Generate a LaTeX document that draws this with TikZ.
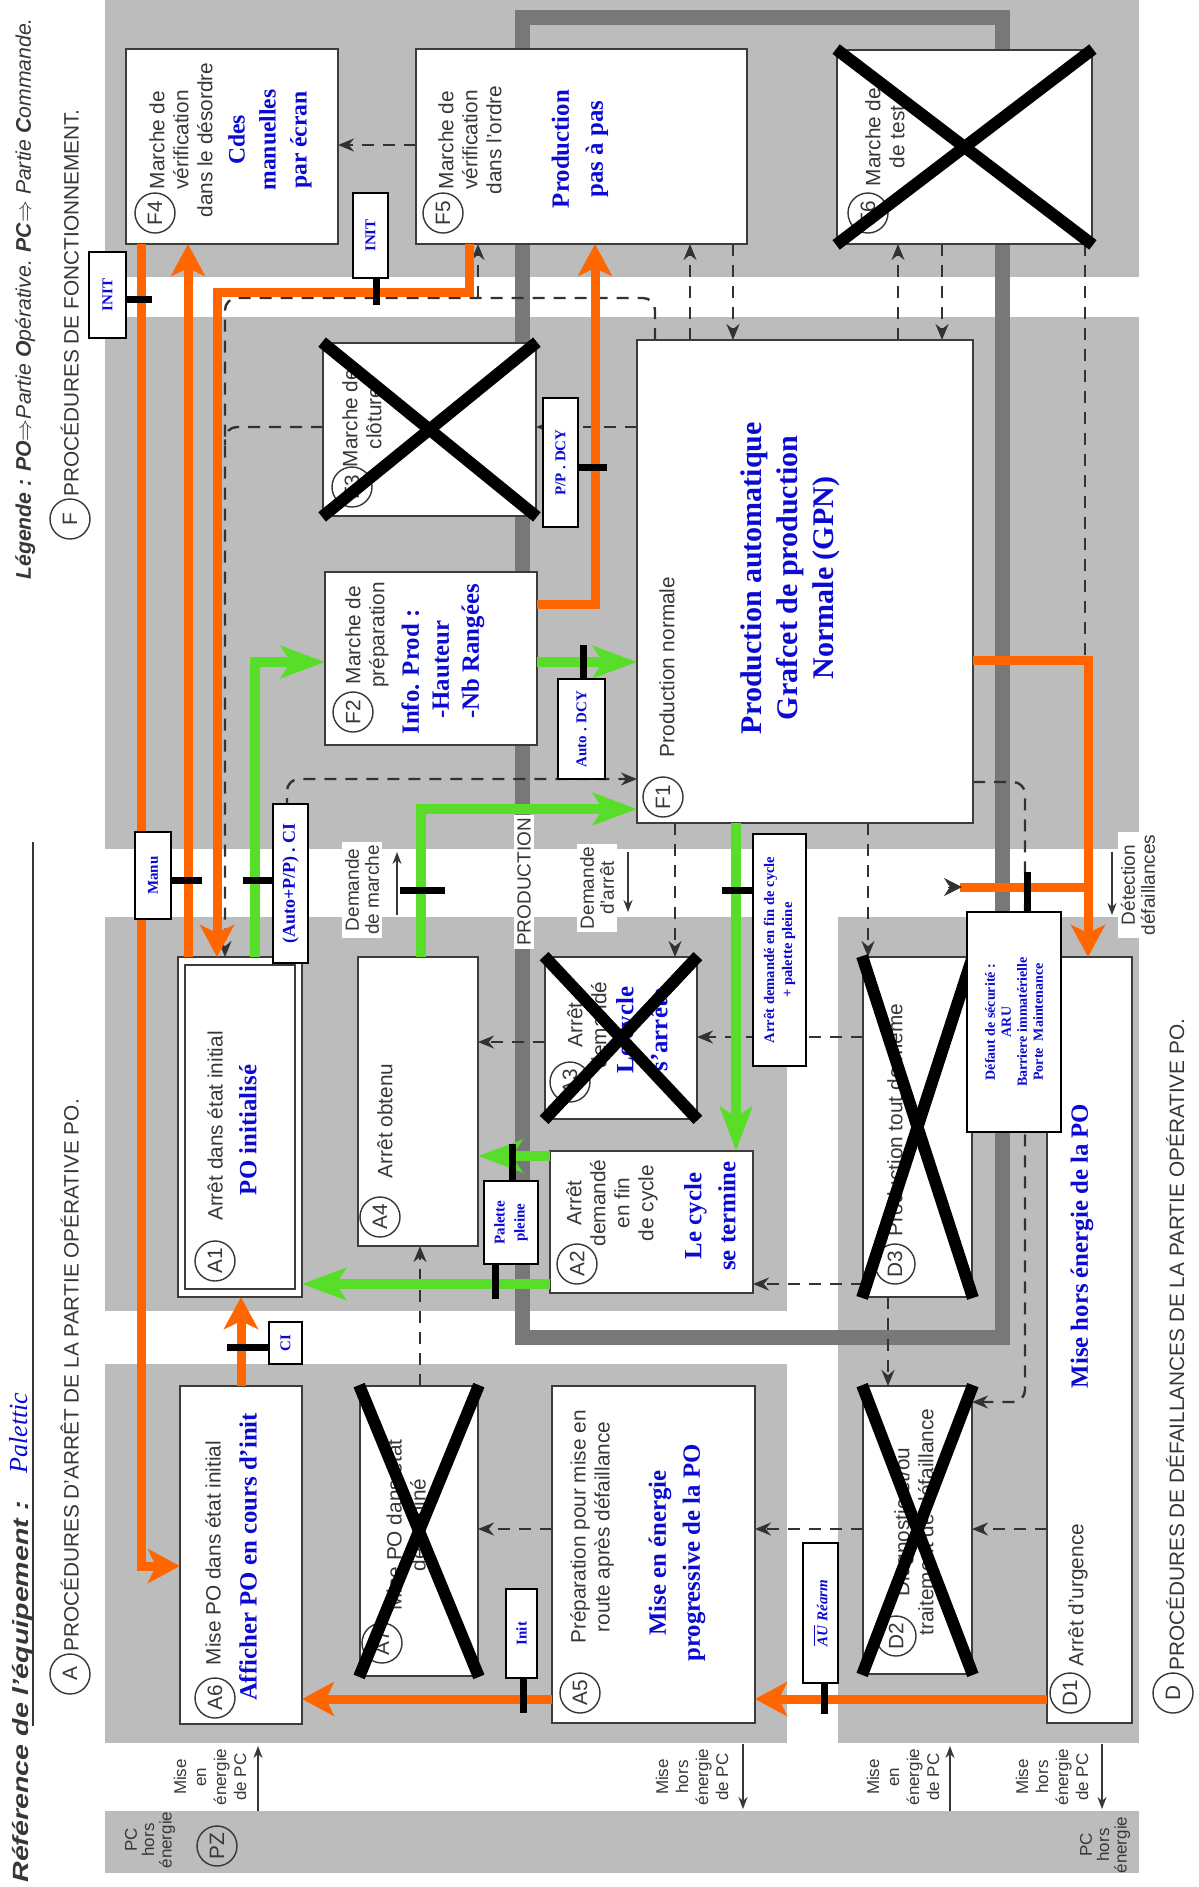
\documentclass[tikz,border=0pt]{standalone}
\usepackage{fontspec}
\usepackage{graphicx}
\setmainfont{Liberation Serif}
\setsansfont{Liberation Sans}
\usetikzlibrary{arrows.meta,fit}
\definecolor{cZone}{RGB}{188,188,188}
\definecolor{cFrame}{RGB}{120,120,120}
\definecolor{cOrange}{RGB}{255,102,0}
\definecolor{cGreen}{RGB}{88,222,40}
\definecolor{cBlue}{RGB}{10,10,210}
\definecolor{cLine}{RGB}{60,60,60}
\definecolor{cText}{RGB}{55,55,55}
\definecolor{cDash}{RGB}{50,50,50}
\begin{document}
\begin{tikzpicture}[x=0.5pt,y=-0.5pt,
  gbox/.style={draw=cLine,line width=0.9pt,fill=white,inner sep=0pt},
  lbox/.style={draw=black,line width=0.8pt,fill=white,inner sep=0pt},
  gt/.style={font=\sffamily\fontsize{10.4}{12}\selectfont,text=cText,rotate=90,align=center,inner sep=0pt},
  bt/.style={font=\rmfamily\bfseries\fontsize{12.4}{17}\selectfont,text=cBlue,rotate=90,align=center,inner sep=0pt},
  lt/.style={font=\rmfamily\bfseries\fontsize{7.5}{9}\selectfont,text=cBlue,rotate=90,align=center,inner sep=0pt},
  cir/.style={circle,draw=cText,line width=0.7pt,minimum size=20pt,inner sep=0pt,font=\sffamily\fontsize{10.4}{12}\selectfont,text=cText,rotate=90},
  smt/.style={font=\sffamily\fontsize{8.5}{10}\selectfont,text=cText,rotate=90,align=center,inner sep=0pt},
  bnd/.style={font=\sffamily\fontsize{9.5}{10}\selectfont,text=cText,rotate=90,align=center,inner sep=1.5pt,fill=white},
  xcr/.style={line width=6pt,black},
  dsh/.style={draw=cDash,line width=1.2pt,dash pattern=on 6pt off 4.5pt},
  dar/.style={dsh,-{Stealth[length=8pt,width=6.5pt]}},
  org/.style={draw=cOrange,line width=4.5pt},
  oar/.style={org,-{Stealth[length=16pt,width=17pt,inset=4pt]}},
  grl/.style={draw=cGreen,line width=5pt},
  gar/.style={grl,-{Stealth[length=22pt,width=16pt,inset=5pt]}},
  tk/.style={line width=3.5pt,black},
  parr/.style={draw=cText,line width=0.8pt,-{Stealth[length=6pt,width=4.5pt]}},
  hd/.style={font=\sffamily\fontsize{10.4}{12}\selectfont,text=cText,rotate=90,inner sep=0pt,anchor=base west},
]
% ---------- background and zones
\fill[white] (0,0) rectangle (1199,1887);
\useasboundingbox (0,0) rectangle (1199,1887);
\fill[cZone] (105,0) rectangle (1139,277);
\fill[cZone] (105,317) rectangle (1139,849);
\fill[cZone] (105,917) rectangle (787,1311);
\fill[cZone] (105,1364) rectangle (787,1743);
\fill[cZone] (838,917) rectangle (1139,1743);
\fill[cZone] (105,1811) rectangle (1139,1873);
% production frame
\draw[cFrame,line width=7.5pt] (522,17) rectangle (1002,1337);

% ---------- headers
\node[hd,font=\sffamily\itshape\fontsize{10.6}{12}\selectfont] (leg) at (31,580)
  {\textbf{Légende :} \textbf{PO}$\Rightarrow$Partie \textbf{O}pérative. \textbf{PC}$\Rightarrow$ Partie \textbf{C}ommande.};
\node[cir] (cF) at (70,519) {F};
\node[hd] (hF) at (78.5,497) {PROCÉDURES DE FONCTIONNEMENT.};
\node[cir] (cA) at (70,1674) {A};
\node[hd] (hA) at (78.5,1652) {PROCÉDURES D'ARRÊT DE LA PARTIE OPÉRATIVE PO.};
\node[cir] (cD) at (1173,1693) {D};
\node[hd] (hD) at (1184,1671) {PROCÉDURES DE DÉFAILLANCES DE LA PARTIE OPÉRATIVE PO.};
\node[hd,font=\sffamily\bfseries\itshape\fontsize{11}{12}\selectfont] (ref) at (28,1883)
  {\scalebox{1.3}[1]{Référence de l'équipement :}};
\node[hd,font=\rmfamily\itshape\fontsize{13}{14}\selectfont,text=cBlue] (pal) at (27,1474) {Palettic};
\draw[cText,line width=0.8pt] (33,1726) -- (33,842);

% ---------- dashed GEMMA links
\draw[dar] (416,145) -- (338,145);
\draw[dar] (690,340) -- (690,244);
\draw[dar] (733,244) -- (733,340);
\draw[dar] (898,340) -- (898,244);
\draw[dar] (942,244) -- (942,340);
\draw[dsh] (1085,244) -- (1085,655);
\draw[dar,rounded corners=6pt] (655,340) -- (655,298) -- (225,298) -- (225,957);
\draw[dar] (478,298) -- (478,244);
\draw[dar] (637,427) -- (536,427);
\draw[dsh,rounded corners=6pt] (323,427) -- (225,427) -- (225,445);
\draw[dar,rounded corners=6pt] (287,957) -- (287,779) -- (637,779);
\draw[dar] (675,823) -- (675,957);
\draw[dar] (868,823) -- (868,957);
\draw[dar,rounded corners=6pt] (973,782) -- (1025,782) -- (1025,1402) -- (972,1402);
\draw[dar] (863,1037) -- (697,1037);
\draw[dar] (545,1042) -- (478,1042);
\draw[dar] (863,1284) -- (753,1284);
\draw[dar] (420,1386) -- (420,1246);
\draw[dar] (888,1297) -- (888,1386);
\draw[dar] (552,1529) -- (478,1529);
\draw[dar] (863,1529) -- (755,1529);
\draw[dar] (1047,1529) -- (972,1529);

% ---------- boxes
\node[gbox,fit={(126,49)(338,244)}] (F4) {};
\node[gbox,fit={(416,49)(747,244)}] (F5) {};
\node[gbox,fit={(837,50)(1092,244)}] (F6) {};
\node[gbox,fit={(323,343)(536,516)}] (F3) {};
\node[gbox,fit={(325,572)(537,745)}] (F2) {};
\node[gbox,fit={(637,340)(973,823)}] (F1) {};
\node[gbox,fit={(178,957)(302,1297)}] (A1) {};
\node[gbox,fit={(185,965)(295,1289)}] (A1i) {};
\node[gbox,fit={(358,957)(478,1246)}] (A4) {};
\node[gbox,fit={(545,957)(697,1119)}] (A3) {};
\node[gbox,fit={(550,1151)(753,1293)}] (A2) {};
\node[gbox,fit={(863,957)(972,1297)}] (D3) {};
\node[gbox,fit={(1047,957)(1132,1723)}] (D1) {};
\node[gbox,fit={(180,1386)(302,1724)}] (A6) {};
\node[gbox,fit={(360,1386)(478,1676)}] (A7) {};
\node[gbox,fit={(552,1386)(755,1723)}] (A5) {};
\node[gbox,fit={(863,1386)(972,1674)}] (D2) {};

% ---------- box texts
\node[cir] (cF4) at (155,213) {F4};
\node[gt] (tF4) at (181,140) {Marche de\\vérification\\dans le désordre};
\node[bt,font=\rmfamily\bfseries\fontsize{11.8}{15.5}\selectfont] (bF4) at (270,140) {Cdes\\manuelles\\par écran};
\node[cir] (cF5) at (443,213) {F5};
\node[gt] (tF5) at (470,140) {Marche de\\vérification\\dans l'ordre};
\node[bt] (bF5) at (580,149) {Production\\pas à pas};
\node[cir] (cF6) at (868,213) {F6};
\node[gt] (tF6) at (885,137) {Marche de\\de test};
\node[cir] (cF3) at (352,487) {F3};
\node[gt] (tF3) at (362,418) {Marche de\\clôture};
\node[cir] (cF2) at (353,712) {F2};
\node[gt] (tF2) at (367,635) {Marche de\\préparation};
\node[bt,align=left,anchor=west,font=\rmfamily\bfseries\fontsize{12.4}{15}\selectfont] (bF2) at (443,735)
  {Info. Prod :\\\hspace*{8pt}-Hauteur\\\hspace*{8pt}-Nb Rangées};
\node[cir] (cF1) at (663,797) {F1};
\node[gt] (tF1) at (667,667) {Production normale};
\node[bt,font=\rmfamily\bfseries\fontsize{15}{18}\selectfont] (bF1) at (790,578)
  {Production automatique\\Grafcet de production\\Normale (GPN)};
\node[cir] (cA1) at (215,1261) {A1};
\node[gt] (tA1) at (215,1126) {Arrêt dans état initial};
\node[bt] (bA1) at (248,1130) {PO initialisé};
\node[cir] (cA4) at (380,1217) {A4};
\node[gt] (tA4) at (385,1121) {Arrêt obtenu};
\node[cir] (cA3) at (570,1082) {A3};
\node[gt] (tA3) at (587,1025) {Arrêt\\demandé};
\node[bt] (bA3) at (642,1030) {Le cycle\\s'arrête};
\node[cir] (cA2) at (577,1264) {A2};
\node[gt] (tA2) at (612,1203) {Arrêt\\demandé\\en fin\\de cycle};
\node[bt] (bA2) at (710,1216) {Le cycle\\se termine};
\node[cir] (cD3) at (895,1264) {D3};
\node[gt] (tD3) at (895,1120) {Production tout de même};
\node[cir] (cD2) at (896,1636) {D2};
\node[gt] (tD2) at (914,1522) {Diagnostic et/ou\\traitement de défaillance};
\node[cir] (cD1) at (1070,1693) {D1};
\node[gt] (tD1) at (1078,1595) {Arrêt d'urgence};
\node[bt] (bD1) at (1082,1246) {Mise hors énergie de la PO};
\node[cir] (cA6) at (215,1698) {A6};
\node[gt] (tA6) at (213,1553) {Mise PO dans état initial};
\node[bt] (bA6) at (248,1557) {Afficher PO en cours d'init};
\node[cir] (cA7) at (382,1643) {A7};
\node[gt] (tA7) at (406,1525) {Mise PO dans état\\déterminé};
\node[cir] (cA5) at (580,1693) {A5};
\node[gt] (tA5) at (592,1527) {Préparation pour mise en\\route après défaillance};
\node[bt] (bA5) at (677,1553) {Mise en énergie\\progressive de la PO};

% ---------- crossed-out states
\foreach \b in {F3,F6,A3,A7,D3,D2}{
  \draw[xcr] (\b.north west) -- (\b.south east);
  \draw[xcr] (\b.south west) -- (\b.north east);
}

% ---------- bottom PC strip and power arrows
\node[smt,font=\sffamily\fontsize{8.5}{8.7}\selectfont] (pcL) at (150,1840) {PC\\hors\\énergie};
\node[cir] (cPZ) at (217,1846) {PZ};
\node[smt,font=\sffamily\fontsize{8.5}{8.7}\selectfont] (pcR) at (1105,1845) {PC\\hors\\énergie};
\node[smt] (pe1) at (210,1777) {Mise\\en\\énergie\\de PC};
\node[smt] (ph1) at (692,1777) {Mise\\hors\\énergie\\de PC};
\node[smt] (pe2) at (903,1777) {Mise\\en\\énergie\\de PC};
\node[smt] (ph2) at (1052,1777) {Mise\\hors\\énergie\\de PC};
\draw[parr] (258,1811) -- (258,1746);
\draw[parr] (743,1744) -- (743,1809);
\draw[parr] (950,1811) -- (950,1746);
\draw[parr] (1102,1744) -- (1102,1809);

% ---------- band labels
\node[bnd] (prod) at (524,882) {PRODUCTION};
\node[bnd] (dmar) at (362,890) {Demande\\de marche};
\node[bnd] (darr) at (597,888) {Demande\\d'arrêt};
\node[bnd] (ddef) at (1138,885) {Détection\\défaillances};
\draw[parr] (397,915) -- (397,852);
\draw[parr] (628,852) -- (628,912);
\draw[parr] (1112,852) -- (1112,915);

% ---------- orange links
\draw[oar] (141,244) -- (141,1566) -- (180,1566);
\draw[oar] (188,957) -- (188,244);
\draw[oar] (469,244) -- (469,292) -- (217,292) -- (217,957);
\draw[oar] (537,604) -- (595,604) -- (595,244);
\draw[oar] (973,660) -- (1088,660) -- (1088,957);
\draw[org] (1088,887) -- (960,887);
\draw[cDash,-{Stealth[length=9pt,width=9pt]}] (948,887) -- (962,887);
\draw[oar] (1047,1699) -- (755,1699);
\draw[oar] (552,1699) -- (302,1699);
\draw[oar] (241,1386) -- (241,1297);

% ---------- green links
\draw[gar] (255,957) -- (255,662) -- (325,662);
\draw[gar] (537,662) -- (637,662);
\draw[gar] (421,957) -- (421,809) -- (637,809);
\draw[gar] (736,823) -- (736,1151);
\draw[gar] (550,1156) -- (478,1156);
\draw[gar] (550,1284) -- (302,1284);

% ---------- transitions
\draw[tk] (126,299) -- (152,299);
\draw[tk] (376,278) -- (376,305);
\draw[tk] (578,467) -- (607,467);
\draw[tk] (583,645) -- (583,679);
\draw[tk] (171,880) -- (202,880);
\draw[tk] (243,880) -- (273,880);
\draw[tk] (400,890) -- (445,890);
\draw[tk] (722,890) -- (753,890);
\draw[tk] (1027,872) -- (1027,912);
\draw[tk] (512,1144) -- (512,1181);
\draw[tk] (495,1264) -- (495,1299);
\draw[tk] (227,1347) -- (269,1347);
\draw[tk] (523,1678) -- (523,1713);
\draw[tk] (824,1683) -- (824,1714);

% ---------- transition labels
\node[lbox,fit={(89,252)(126,338)}] (L1) {};
\node[lt] at (L1.center) (tL1) {INIT};
\node[lbox,fit={(353,193)(388,278)}] (L2) {};
\node[lt] at (L2.center) (tL2) {INIT};
\node[lbox,fit={(543,398)(578,527)}] (L3) {};
\node[lt] at (L3.center) (tL3) {P/P . DCY};
\node[lbox,fit={(558,679)(605,779)}] (L4) {};
\node[lt] at (L4.center) (tL4) {Auto . DCY};
\node[lbox,fit={(135,832)(171,919)}] (L5) {};
\node[lt] at (L5.center) (tL5) {Manu};
\node[lbox,fit={(273,804)(308,963)}] (L6) {};
\node[lt,font=\rmfamily\bfseries\fontsize{9}{10}\selectfont] at (L6.center) (tL6) {(Auto+P/P) . CI};
\node[lbox,fit={(753,834)(806,1066)}] (L7) {};
\node[lt,font=\rmfamily\bfseries\fontsize{7.3}{9}\selectfont] at (L7.center) (tL7) {Arrêt demandé en fin de cycle\\+ palette pleine};
\node[lbox,fit={(967,912)(1061,1132)}] (L8) {};
\node[lt,font=\rmfamily\bfseries\fontsize{7}{8}\selectfont] at (L8.center) (tL8) {Défaut de sécurité :\\ARU\\Barriere immatérielle\\Porte\ \ Maintenance};
\node[lbox,fit={(484,1181)(538,1264)}] (L9) {};
\node[lt,font=\rmfamily\bfseries\fontsize{7.5}{10}\selectfont] at (L9.center) (tL9) {Palette\\pleine};
\node[lbox,fit={(269,1322)(302,1364)}] (L10) {};
\node[lt] at (L10.center) (tL10) {CI};
\node[lbox,fit={(506,1589)(537,1678)}] (L11) {};
\node[lt] at (L11.center) (tL11) {Init};
\node[lbox,fit={(803,1543)(838,1683)}] (L12) {};
\node[lt,font=\rmfamily\bfseries\itshape\fontsize{7.5}{9}\selectfont] at (L12.center) (tL12) {$\overline{\mbox{\textit{AU}}}$ Réarm};
\end{tikzpicture}
\end{document}
